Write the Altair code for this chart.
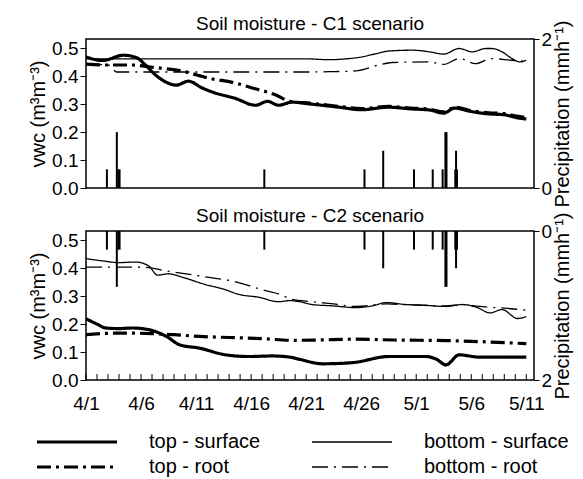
import json
import altair as alt
import pandas as pd

FONT = "Liberation Sans"

# ---------------- data ----------------
x_tick_days = [0, 5, 10, 15, 20, 25, 30, 35, 40]
x_tick_labels = ["4/1", "4/6", "4/11", "4/16", "4/21", "4/26", "5/1", "5/6", "5/11"]
minor_tick_days = [0, 1, 2, 3, 4, 5, 6, 7, 8, 9, 10, 11, 12, 13, 14, 15, 16, 17, 18, 19, 20,
                   21, 22, 23, 24, 25, 26, 27, 28, 29, 30, 31, 32, 33, 34, 35, 36, 37, 38, 39, 40]

series_names = ["top - surface", "top - root", "bottom - surface", "bottom - root"]

# Scenario C1
c1_top_surface_day = [0, 1.5, 3.4, 4.6, 5.4, 6.3, 7.2, 8.2, 9.3, 10.6, 11.5, 13.6, 15.4, 16.5, 17.5,
                      18.7, 20.5, 23, 25, 27.5, 29.5, 31.2, 32.5, 33.5, 34.8, 36.6, 38, 39.3, 40]
c1_top_surface_vwc = [0.469, 0.456, 0.475, 0.466, 0.44, 0.405, 0.38, 0.368, 0.382, 0.357, 0.343, 0.32,
                      0.296, 0.31, 0.296, 0.307, 0.300, 0.289, 0.280, 0.289, 0.283, 0.279, 0.268, 0.286,
                      0.275, 0.265, 0.262, 0.25, 0.247]

c1_top_root_day = [0, 2, 4.2, 6, 8.5, 11.5, 13.3, 15.1, 17.3, 18.5, 20.5, 23, 25, 27.5, 29.5, 31.2,
                   32.5, 33.5, 34.8, 36.6, 38, 39.3, 40]
c1_top_root_vwc = [0.443, 0.44, 0.44, 0.432, 0.42, 0.39, 0.378, 0.358, 0.332, 0.31, 0.303, 0.292,
                   0.284, 0.292, 0.286, 0.282, 0.272, 0.289, 0.278, 0.269, 0.266, 0.256, 0.252]

c1_bottom_surface_day = [0, 10, 20, 22.1, 23.9, 25.1, 26.4, 27.5, 29.7, 31.2, 32.5, 33.9, 35.1, 36.3,
                         36.9, 37.8, 38.7, 39.4, 40]
c1_bottom_surface_vwc = [0.462, 0.462, 0.462, 0.459, 0.463, 0.469, 0.481, 0.49, 0.493, 0.487, 0.479,
                         0.499, 0.487, 0.499, 0.499, 0.487, 0.463, 0.451, 0.457]

c1_bottom_root_day = [0, 2.0, 2.8, 10, 20, 22.1, 24.5, 26.6, 27.8, 31.2, 32.5, 33.9, 35.4, 36.8,
                      38.7, 39.8, 40]
c1_bottom_root_vwc = [0.443, 0.44, 0.415, 0.415, 0.415, 0.416, 0.419, 0.44, 0.449, 0.451, 0.442,
                      0.463, 0.445, 0.463, 0.457, 0.454, 0.454]

# Scenario C2
c2_top_surface_day = [0, 1, 1.8, 3, 4.2, 5.7, 7.3, 8.5, 10.3, 12.7, 14.8, 16.9, 18.5, 19.4, 21.5,
                      24.2, 27.5, 30.9, 31.8, 32.7, 33.9, 35.7, 40]
c2_top_surface_vwc = [0.219, 0.2, 0.186, 0.184, 0.186, 0.18, 0.156, 0.126, 0.114, 0.09, 0.084, 0.086,
                      0.082, 0.074, 0.058, 0.062, 0.084, 0.084, 0.075, 0.054, 0.09, 0.082, 0.082]

c2_top_root_day = [0, 3, 6, 8, 10.3, 13, 16, 18.7, 21, 24.5, 28, 32.7, 36, 40]
c2_top_root_vwc = [0.162, 0.168, 0.166, 0.162, 0.156, 0.152, 0.148, 0.142, 0.143, 0.146, 0.143, 0.141,
                   0.137, 0.13]

c2_bottom_surface_day = [0, 1.5, 3, 4.5, 5.7, 6.5, 7.5, 8.8, 10.8, 12.5, 13.9, 15.7, 17.5, 18.5, 19.4,
                         20.5, 22.5, 24.5, 26, 27.3, 29, 30.5, 32.7, 34.2, 35.5, 36.7, 37.8, 39.2, 40]
c2_bottom_surface_vwc = [0.434, 0.426, 0.42, 0.422, 0.408, 0.375, 0.38, 0.367, 0.342, 0.325, 0.306,
                         0.296, 0.28, 0.284, 0.28, 0.27, 0.265, 0.259, 0.265, 0.277, 0.27, 0.268,
                         0.263, 0.27, 0.26, 0.24, 0.252, 0.22, 0.227]

c2_bottom_root_day = [0, 3, 5.4, 7.3, 9.1, 11.5, 13.3, 15, 16.3, 17.5, 18.75, 20.5, 22.5, 24.5, 27.3,
                      30, 32.7, 34.2, 35.7, 38, 40]
c2_bottom_root_vwc = [0.404, 0.404, 0.403, 0.39, 0.38, 0.365, 0.354, 0.335, 0.32, 0.308, 0.288, 0.28,
                      0.272, 0.263, 0.272, 0.268, 0.265, 0.27, 0.263, 0.257, 0.25]

# Precipitation (same for both scenarios)
precip_day = [1.9, 2.8, 2.95, 3.05, 16.2, 25.3, 27.0, 29.8, 31.5, 32.4, 32.65, 32.75, 33.55, 33.62, 33.7]
precip_mmh = [0.25, 0.75, 0.25, 0.25, 0.25, 0.25, 0.5, 0.25, 0.25, 0.25, 0.75, 0.75, 0.25, 0.5, 0.25]


def long_frame(parts):
    rows = []
    for name, days, vals in parts:
        for d, v in zip(days, vals):
            rows.append({"day": d, "vwc": v, "series": name})
    return pd.DataFrame(rows)


c1_df = long_frame([
    ("top - surface", c1_top_surface_day, c1_top_surface_vwc),
    ("top - root", c1_top_root_day, c1_top_root_vwc),
    ("bottom - surface", c1_bottom_surface_day, c1_bottom_surface_vwc),
    ("bottom - root", c1_bottom_root_day, c1_bottom_root_vwc),
])
c2_df = long_frame([
    ("top - surface", c2_top_surface_day, c2_top_surface_vwc),
    ("top - root", c2_top_root_day, c2_top_root_vwc),
    ("bottom - surface", c2_bottom_surface_day, c2_bottom_surface_vwc),
    ("bottom - root", c2_bottom_root_day, c2_bottom_root_vwc),
])
precip_df = pd.DataFrame({"day": precip_day, "precip": precip_mmh})
minor_df = pd.DataFrame({"day": minor_tick_days})

# ---------------- styling ----------------
W, H = 448, 149
x_scale = alt.Scale(domain=[0, 40.7], nice=False, zero=False)
vwc_scale = alt.Scale(domain=[0, 0.533], nice=False)

dash_range = [[1, 0], [14, 5, 3, 5], [1, 0], [16, 6, 2, 6]]

legend = alt.Legend(
    title=None,
    orient="none",
    legendX=-49,
    legendY=393,
    columns=2,
    symbolType="M-4,0L4,0",
    symbolSize=400,
    symbolOffset=30,
    labelOffset=62,
    symbolStrokeColor="black",
    symbolFillColor="transparent",
    symbolStrokeWidth=alt.ExprRef(
        expr="indexof(['top - surface','top - root'], datum.value) >= 0 ? 3.2 : 1.3"),
    labelFontSize=20,
    labelFont=FONT,
    labelColor="black",
    columnPadding=48,
    rowPadding=5,
)

labels_js = json.dumps(x_tick_labels)
days_js = json.dumps(x_tick_days)
x_axis_bottom = alt.Axis(
    title=None, values=x_tick_days, labelExpr=f"{labels_js}[indexof({days_js}, datum.value)]",
    ticks=False, domain=False, grid=False, labelPadding=14, labelFontSize=19, labelFont=FONT,
    labelColor="black", labelOverlap=False, labelFlush=False,
)

y_axis_vwc = alt.Axis(
    title="vwc (m³m⁻³)", values=[0, 0.1, 0.2, 0.3, 0.4, 0.5], format=".1f", tickSize=6,
    tickColor="black", domain=False, grid=False, labelFontSize=19, labelFont=FONT,
    labelColor="black", labelPadding=2, titleFontSize=20, titleFont=FONT,
    titleFontWeight="normal", titleColor="black", titlePadding=3, labelOverlap=False,
)


def precip_axis():
    return alt.Axis(
        title="Precipitation (mmh⁻¹)", orient="right", values=[0, 1, 2], format="d", tickSize=5,
        tickColor="black", domain=False, grid=False, labelFontSize=19, labelFont=FONT,
        labelColor="black", labelPadding=2, titleFontSize=20, titleFont=FONT,
        titleFontWeight="normal", titleColor="black", titlePadding=1, titleAngle=270,
        titleBaseline="top", labelOverlap=False,
    )


def panel(df, title, reverse_precip, xaxis, with_minor):
    base = alt.Chart(df)
    dash = alt.StrokeDash("series:N", scale=alt.Scale(domain=series_names, range=dash_range),
                          legend=legend)
    thick = base.transform_filter(
        alt.FieldOneOfPredicate(field="series", oneOf=["top - surface", "top - root"])
    ).mark_line(color="black", strokeWidth=3.2, interpolate="monotone").encode(
        x=alt.X("day:Q", scale=x_scale, axis=xaxis),
        y=alt.Y("vwc:Q", scale=vwc_scale, axis=y_axis_vwc),
        strokeDash=dash,
        detail="series:N",
    )
    thin = base.transform_filter(
        alt.FieldOneOfPredicate(field="series", oneOf=["bottom - surface", "bottom - root"])
    ).mark_line(color="black", strokeWidth=1.3, interpolate="monotone").encode(
        x=alt.X("day:Q", scale=x_scale, axis=xaxis),
        y=alt.Y("vwc:Q", scale=vwc_scale, axis=y_axis_vwc),
        strokeDash=dash,
        detail="series:N",
    )
    lines = alt.layer(thick, thin)
    if with_minor:
        ticks = alt.Chart(minor_df).mark_rule(color="black", strokeWidth=1).encode(
            x=alt.X("day:Q", scale=x_scale, axis=xaxis),
            y=alt.value(H),
            y2=alt.value(H - 6),
        )
        lines = alt.layer(thick, thin, ticks)
    rain = alt.Chart(precip_df).mark_rule(color="black", strokeWidth=2).encode(
        x=alt.X("day:Q", scale=x_scale, axis=xaxis),
        y=alt.Y("precip:Q", scale=alt.Scale(domain=[0, 2], nice=False, reverse=reverse_precip),
                axis=precip_axis()),
        y2=alt.datum(0),
    )
    return alt.layer(rain, lines).resolve_scale(y="independent").properties(
        width=W, height=H, title=title
    )


top = panel(c1_df, "Soil moisture - C1 scenario", False, None, False)
bottom = panel(c2_df, "Soil moisture - C2 scenario", True, x_axis_bottom, True)

chart = alt.vconcat(top, bottom, spacing=43, bounds="flush").properties(
    padding={"left": 19, "top": 6, "right": 0, "bottom": 0}
).configure_view(
    stroke="black", strokeWidth=1.5
).configure_title(
    fontSize=19, font=FONT, fontWeight="normal", color="black", offset=8, anchor="middle",
    frame="group", dy=22
).configure_axis(
    labelFont=FONT, titleFont=FONT
)

chart.save("out.html", embed_options={"renderer": "svg", "actions": False})
